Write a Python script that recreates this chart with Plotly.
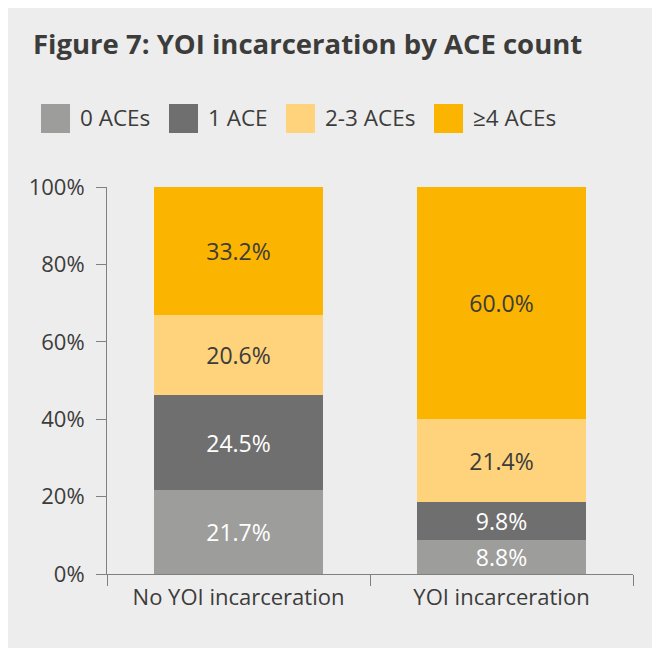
import plotly.graph_objects as go

categories = ["No YOI incarceration", "YOI incarceration"]
series_names = ["0 ACEs", "1 ACE", "2-3 ACEs", "≥4 ACEs"]
values = {
    "0 ACEs": [21.7, 8.8],
    "1 ACE": [24.5, 9.8],
    "2-3 ACEs": [20.6, 21.4],
    "≥4 ACEs": [33.2, 60.0],
}
colors = ["#9d9d9c", "#706f6f", "#fed37b", "#fbb400"]
label_colors = ["#ffffff", "#ffffff", "#3c3c3b", "#3c3c3b"]
y_ticks = [0, 20, 40, 60, 80, 100]
y_tick_labels = [f"{t}%" for t in y_ticks]

W, H = 660, 648
ML, MR, MT, MB = 99, 35, 179, 82
PW, PH = W - ML - MR, H - MT - MB
FONT = "Open Sans"
TXT = "#3c3c3b"

def px_x(p):
    return (p - ML) / PW

def px_y(p):
    return (H - MB - p) / PH

fig = go.Figure()
for name, col, lc in zip(series_names, colors, label_colors):
    vals = values[name]
    fig.add_trace(go.Bar(
        x=categories, y=vals, name=name,
        marker=dict(color=col, line=dict(width=0)),
        text=[f"{v:.1f}%" for v in vals],
        textposition="inside", insidetextanchor="middle",
        textfont=dict(family=FONT, size=23, color=lc),
        constraintext="none",
        showlegend=False,
    ))

shapes = []
annotations = []
legend_x = [33, 161, 278, 426]
for lx, name, col in zip(legend_x, series_names, colors):
    shapes.append(dict(type="rect", xref="paper", yref="paper",
                       x0=px_x(lx), x1=px_x(lx + 29), y0=px_y(125), y1=px_y(96),
                       fillcolor=col, line=dict(width=0)))
    annotations.append(dict(text=name, xref="paper", yref="paper",
                            x=px_x(lx + 37), y=px_y(109.5), xanchor="left", yanchor="middle",
                            showarrow=False, font=dict(family=FONT, size=22.5, color=TXT)))

fig.update_layout(
    width=W, height=H,
    margin=dict(l=ML, r=MR, t=MT, b=MB),
    paper_bgcolor="#ededed", plot_bgcolor="#ededed",
    barmode="stack", bargap=0.36,
    title=dict(text="<b>Figure 7: YOI incarceration by ACE count</b>",
               xref="container", yref="container", x=25 / W, xanchor="left",
               y=1 - 36.5 / H, yanchor="middle",
               font=dict(family=FONT, size=27.5, color=TXT)),
    shapes=shapes, annotations=annotations,
    showlegend=False,
)
fig.update_yaxes(range=[0, 100], tickvals=y_ticks, ticktext=y_tick_labels,
                 showgrid=False, zeroline=False,
                 showline=True, linecolor="#808080", linewidth=1,
                 ticks="outside", ticklen=10, tickcolor="#808080",
                 ticklabelstandoff=7,
                 tickfont=dict(family=FONT, size=22, color=TXT))
fig.update_xaxes(showgrid=False, showline=True, linecolor="#808080", linewidth=1,
                 ticks="outside", ticklen=11, tickcolor="#808080", tickson="boundaries",
                 ticklabelstandoff=4,
                 tickfont=dict(family=FONT, size=22, color=TXT))

fig.write_html("out.html")
